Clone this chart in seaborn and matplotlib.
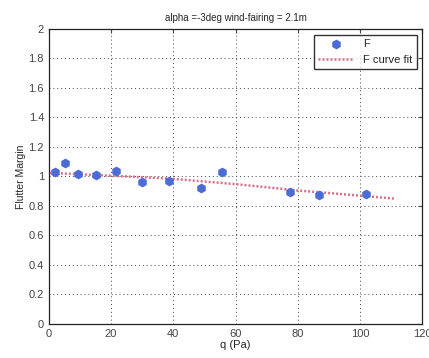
import numpy as np
import pandas as pd
import matplotlib
matplotlib.use("Agg")
import matplotlib.pyplot as plt
import seaborn as sns

# measured points
q_pa = [2.0, 5.3, 9.5, 15.0, 21.7, 29.8, 38.5, 48.8, 55.6, 77.6, 86.9, 101.9]
flutter_margin = [1.03, 1.09, 1.02, 1.01, 1.04, 0.96, 0.97, 0.925, 1.03, 0.895, 0.877, 0.878]

# curve fit
fit_q = [0, 10, 20, 30, 40, 50, 60, 70, 80, 90, 100, 111]
fit_margin = [1.025, 1.015, 1.005, 0.995, 0.984, 0.966, 0.948, 0.927, 0.905, 0.888, 0.870, 0.850]

df = pd.DataFrame({"q": q_pa, "F": flutter_margin})
df_fit = pd.DataFrame({"q": fit_q, "F": fit_margin})

sns.set_style("white")
plt.rcParams['font.family'] = ['Liberation Sans', 'DejaVu Sans']

fig = plt.figure(figsize=(4.29, 3.58), dpi=100)
ax = fig.add_axes([0.114, 0.095, 0.870, 0.824])

sns.scatterplot(data=df, x="q", y="F", ax=ax, marker="h", s=50,
                color="#4a6cd4", edgecolor="#4a6cd4", linewidth=0, label="F", zorder=3)
sns.lineplot(data=df_fit, x="q", y="F", ax=ax, color="#d66f88", linestyle=(0, (0.8, 0.8)),
             linewidth=1.8, label="F curve fit", zorder=2)

ax.set_xlim(0, 120)
ax.set_ylim(0, 2)
ax.set_xticks(np.arange(0, 121, 20))
ax.set_yticks(np.arange(0, 2.01, 0.2))
ax.set_yticklabels(["0", "0.2", "0.4", "0.6", "0.8", "1", "1.2", "1.4", "1.6", "1.8", "2"])
ax.grid(True, color="#444444", linestyle=(0, (1, 3)), linewidth=0.7)
ax.tick_params(direction="in", length=3, labelsize=8, colors="#444444", top=True, right=True)
for sp in ax.spines.values():
    sp.set_color("#222222")
    sp.set_linewidth(0.9)

ax.set_xlabel("q (Pa)", fontsize=8, labelpad=1)
ax.set_ylabel("Flutter Margin", fontsize=7.5, labelpad=2)
ax.set_title("alpha =-3deg wind-fairing = 2.1m", fontsize=7, pad=6)

leg = ax.legend(loc="upper right", fontsize=8, frameon=True, fancybox=False,
                edgecolor="black", handlelength=3.2, borderaxespad=0.5)
leg.get_frame().set_linewidth(1.0)

plt.savefig("out.png", dpi=100)
